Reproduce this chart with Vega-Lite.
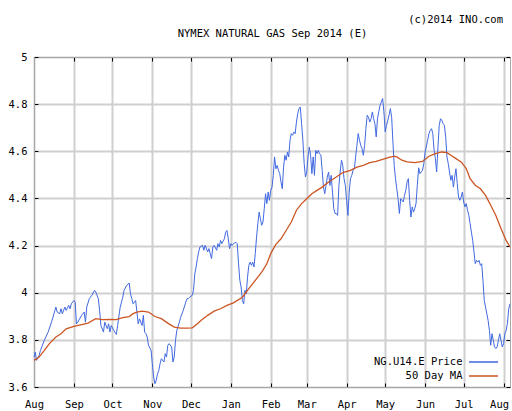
{
  "$schema": "https://vega.github.io/schema/vega-lite/v6.json",
  "width": 476,
  "height": 330,
  "autosize": {"type": "none"},
  "padding": {"left": 34, "top": 57, "right": 2, "bottom": 24},
  "background": "#ffffff",
  "title": {"text": "(c)2014 INO.com", "anchor": "end", "frame": "group", "dx": -7, "offset": 3, "font": "DejaVu Sans Mono", "fontSize": 10.5, "fontWeight": "normal", "color": "#000000"},
  "datasets": {
    "price": [
      {"date": "2013-08-01", "price": 3.727}, {"date": "2013-08-02", "price": 3.748}, {"date": "2013-08-03", "price": 3.713}, {"date": "2013-08-05", "price": 3.734}, {"date": "2013-08-06", "price": 3.755}, {"date": "2013-08-09", "price": 3.798}, {"date": "2013-08-12", "price": 3.833}, {"date": "2013-08-15", "price": 3.882}, {"date": "2013-08-18", "price": 3.939}, {"date": "2013-08-19", "price": 3.918}, {"date": "2013-08-21", "price": 3.911}, {"date": "2013-08-22", "price": 3.932}, {"date": "2013-08-23", "price": 3.911}, {"date": "2013-08-25", "price": 3.939}, {"date": "2013-08-26", "price": 3.925}, {"date": "2013-08-28", "price": 3.946}, {"date": "2013-08-29", "price": 3.932}, {"date": "2013-08-30", "price": 3.953},
      {"date": "2013-09-01", "price": 3.967}, {"date": "2013-09-02", "price": 3.96}, {"date": "2013-09-03", "price": 3.868}, {"date": "2013-09-04", "price": 3.875}, {"date": "2013-09-07", "price": 3.904}, {"date": "2013-09-09", "price": 3.918}, {"date": "2013-09-10", "price": 3.875}, {"date": "2013-09-11", "price": 3.939}, {"date": "2013-09-13", "price": 3.975}, {"date": "2013-09-15", "price": 3.989}, {"date": "2013-09-17", "price": 4.01}, {"date": "2013-09-18", "price": 4.003}, {"date": "2013-09-20", "price": 3.975}, {"date": "2013-09-21", "price": 3.925}, {"date": "2013-09-22", "price": 3.861}, {"date": "2013-09-24", "price": 3.833}, {"date": "2013-09-25", "price": 3.875}, {"date": "2013-09-27", "price": 3.847}, {"date": "2013-09-28", "price": 3.868}, {"date": "2013-09-29", "price": 3.833}, {"date": "2013-09-30", "price": 3.861},
      {"date": "2013-10-02", "price": 3.84}, {"date": "2013-10-04", "price": 3.823}, {"date": "2013-10-05", "price": 3.861}, {"date": "2013-10-07", "price": 3.939}, {"date": "2013-10-09", "price": 3.981}, {"date": "2013-10-10", "price": 4.01}, {"date": "2013-10-12", "price": 4.031}, {"date": "2013-10-14", "price": 4.041}, {"date": "2013-10-15", "price": 3.996}, {"date": "2013-10-16", "price": 3.975}, {"date": "2013-10-17", "price": 3.953}, {"date": "2013-10-19", "price": 3.967}, {"date": "2013-10-20", "price": 3.918}, {"date": "2013-10-21", "price": 3.868}, {"date": "2013-10-22", "price": 3.889}, {"date": "2013-10-24", "price": 3.861}, {"date": "2013-10-25", "price": 3.904}, {"date": "2013-10-26", "price": 3.833}, {"date": "2013-10-27", "price": 3.826}, {"date": "2013-10-28", "price": 3.812}, {"date": "2013-10-29", "price": 3.777}, {"date": "2013-10-31", "price": 3.755},
      {"date": "2013-11-01", "price": 3.699}, {"date": "2013-11-02", "price": 3.642}, {"date": "2013-11-03", "price": 3.614}, {"date": "2013-11-04", "price": 3.628}, {"date": "2013-11-05", "price": 3.656}, {"date": "2013-11-06", "price": 3.67}, {"date": "2013-11-07", "price": 3.699}, {"date": "2013-11-08", "price": 3.72}, {"date": "2013-11-10", "price": 3.706}, {"date": "2013-11-11", "price": 3.741}, {"date": "2013-11-12", "price": 3.727}, {"date": "2013-11-13", "price": 3.777}, {"date": "2013-11-14", "price": 3.784}, {"date": "2013-11-16", "price": 3.77}, {"date": "2013-11-17", "price": 3.706}, {"date": "2013-11-18", "price": 3.727}, {"date": "2013-11-19", "price": 3.798}, {"date": "2013-11-20", "price": 3.84}, {"date": "2013-11-22", "price": 3.875}, {"date": "2013-11-23", "price": 3.896}, {"date": "2013-11-25", "price": 3.925}, {"date": "2013-11-27", "price": 3.96}, {"date": "2013-11-28", "price": 3.975}, {"date": "2013-11-29", "price": 3.975}, {"date": "2013-11-30", "price": 3.981},
      {"date": "2013-12-02", "price": 3.989}, {"date": "2013-12-03", "price": 4.01}, {"date": "2013-12-04", "price": 4.08}, {"date": "2013-12-05", "price": 4.109}, {"date": "2013-12-06", "price": 4.145}, {"date": "2013-12-07", "price": 4.173}, {"date": "2013-12-08", "price": 4.194}, {"date": "2013-12-10", "price": 4.201}, {"date": "2013-12-11", "price": 4.18}, {"date": "2013-12-12", "price": 4.201}, {"date": "2013-12-14", "price": 4.173}, {"date": "2013-12-15", "price": 4.187}, {"date": "2013-12-16", "price": 4.166}, {"date": "2013-12-17", "price": 4.145}, {"date": "2013-12-18", "price": 4.194}, {"date": "2013-12-19", "price": 4.201}, {"date": "2013-12-21", "price": 4.18}, {"date": "2013-12-22", "price": 4.208}, {"date": "2013-12-23", "price": 4.194}, {"date": "2013-12-24", "price": 4.222}, {"date": "2013-12-25", "price": 4.208}, {"date": "2013-12-27", "price": 4.229}, {"date": "2013-12-28", "price": 4.257}, {"date": "2013-12-29", "price": 4.264}, {"date": "2013-12-30", "price": 4.229}, {"date": "2013-12-31", "price": 4.187},
      {"date": "2014-01-01", "price": 4.208}, {"date": "2014-01-02", "price": 4.201}, {"date": "2014-01-03", "price": 4.208}, {"date": "2014-01-05", "price": 4.214}, {"date": "2014-01-06", "price": 4.208}, {"date": "2014-01-07", "price": 4.123}, {"date": "2014-01-08", "price": 4.052}, {"date": "2014-01-09", "price": 4.024}, {"date": "2014-01-10", "price": 3.967}, {"date": "2014-01-11", "price": 3.953}, {"date": "2014-01-12", "price": 4.01}, {"date": "2014-01-13", "price": 3.996}, {"date": "2014-01-14", "price": 4.066}, {"date": "2014-01-15", "price": 4.116}, {"date": "2014-01-16", "price": 4.13}, {"date": "2014-01-17", "price": 4.116}, {"date": "2014-01-18", "price": 4.13}, {"date": "2014-01-19", "price": 4.109}, {"date": "2014-01-20", "price": 4.166}, {"date": "2014-01-21", "price": 4.236}, {"date": "2014-01-22", "price": 4.293}, {"date": "2014-01-23", "price": 4.342}, {"date": "2014-01-24", "price": 4.314}, {"date": "2014-01-25", "price": 4.286}, {"date": "2014-01-26", "price": 4.3}, {"date": "2014-01-27", "price": 4.357}, {"date": "2014-01-28", "price": 4.42}, {"date": "2014-01-29", "price": 4.378}, {"date": "2014-01-30", "price": 4.427}, {"date": "2014-01-31", "price": 4.392},
      {"date": "2014-02-01", "price": 4.434}, {"date": "2014-02-02", "price": 4.448}, {"date": "2014-02-03", "price": 4.498}, {"date": "2014-02-04", "price": 4.576}, {"date": "2014-02-05", "price": 4.526}, {"date": "2014-02-06", "price": 4.54}, {"date": "2014-02-07", "price": 4.519}, {"date": "2014-02-08", "price": 4.505}, {"date": "2014-02-09", "price": 4.47}, {"date": "2014-02-10", "price": 4.441}, {"date": "2014-02-11", "price": 4.533}, {"date": "2014-02-12", "price": 4.583}, {"date": "2014-02-13", "price": 4.562}, {"date": "2014-02-14", "price": 4.597}, {"date": "2014-02-15", "price": 4.576}, {"date": "2014-02-16", "price": 4.647}, {"date": "2014-02-17", "price": 4.675}, {"date": "2014-02-18", "price": 4.668}, {"date": "2014-02-19", "price": 4.682}, {"date": "2014-02-20", "price": 4.675}, {"date": "2014-02-21", "price": 4.724}, {"date": "2014-02-22", "price": 4.76}, {"date": "2014-02-23", "price": 4.781}, {"date": "2014-02-24", "price": 4.788}, {"date": "2014-02-25", "price": 4.717}, {"date": "2014-02-26", "price": 4.647}, {"date": "2014-02-27", "price": 4.548}, {"date": "2014-02-28", "price": 4.491},
      {"date": "2014-03-01", "price": 4.512}, {"date": "2014-03-02", "price": 4.576}, {"date": "2014-03-03", "price": 4.618}, {"date": "2014-03-04", "price": 4.583}, {"date": "2014-03-05", "price": 4.505}, {"date": "2014-03-06", "price": 4.576}, {"date": "2014-03-07", "price": 4.498}, {"date": "2014-03-08", "price": 4.604}, {"date": "2014-03-09", "price": 4.59}, {"date": "2014-03-10", "price": 4.604}, {"date": "2014-03-11", "price": 4.59}, {"date": "2014-03-12", "price": 4.583}, {"date": "2014-03-13", "price": 4.519}, {"date": "2014-03-14", "price": 4.448}, {"date": "2014-03-15", "price": 4.42}, {"date": "2014-03-16", "price": 4.455}, {"date": "2014-03-17", "price": 4.491}, {"date": "2014-03-18", "price": 4.512}, {"date": "2014-03-19", "price": 4.455}, {"date": "2014-03-20", "price": 4.498}, {"date": "2014-03-21", "price": 4.427}, {"date": "2014-03-22", "price": 4.357}, {"date": "2014-03-23", "price": 4.336}, {"date": "2014-03-24", "price": 4.336}, {"date": "2014-03-25", "price": 4.328}, {"date": "2014-03-26", "price": 4.455}, {"date": "2014-03-27", "price": 4.512}, {"date": "2014-03-28", "price": 4.562}, {"date": "2014-03-29", "price": 4.54}, {"date": "2014-03-30", "price": 4.484}, {"date": "2014-03-31", "price": 4.455},
      {"date": "2014-04-01", "price": 4.392}, {"date": "2014-04-02", "price": 4.328}, {"date": "2014-04-03", "price": 4.427}, {"date": "2014-04-04", "price": 4.484}, {"date": "2014-04-05", "price": 4.498}, {"date": "2014-04-06", "price": 4.519}, {"date": "2014-04-07", "price": 4.526}, {"date": "2014-04-08", "price": 4.576}, {"date": "2014-04-09", "price": 4.625}, {"date": "2014-04-10", "price": 4.675}, {"date": "2014-04-11", "price": 4.647}, {"date": "2014-04-12", "price": 4.625}, {"date": "2014-04-13", "price": 4.611}, {"date": "2014-04-14", "price": 4.583}, {"date": "2014-04-15", "price": 4.625}, {"date": "2014-04-16", "price": 4.696}, {"date": "2014-04-17", "price": 4.753}, {"date": "2014-04-18", "price": 4.745}, {"date": "2014-04-19", "price": 4.724}, {"date": "2014-04-20", "price": 4.738}, {"date": "2014-04-21", "price": 4.767}, {"date": "2014-04-22", "price": 4.738}, {"date": "2014-04-23", "price": 4.717}, {"date": "2014-04-24", "price": 4.661}, {"date": "2014-04-25", "price": 4.738}, {"date": "2014-04-26", "price": 4.767}, {"date": "2014-04-27", "price": 4.795}, {"date": "2014-04-28", "price": 4.809}, {"date": "2014-04-29", "price": 4.824}, {"date": "2014-04-30", "price": 4.767},
      {"date": "2014-05-01", "price": 4.682}, {"date": "2014-05-02", "price": 4.71}, {"date": "2014-05-03", "price": 4.731}, {"date": "2014-05-04", "price": 4.753}, {"date": "2014-05-05", "price": 4.781}, {"date": "2014-05-06", "price": 4.745}, {"date": "2014-05-07", "price": 4.639}, {"date": "2014-05-08", "price": 4.54}, {"date": "2014-05-09", "price": 4.484}, {"date": "2014-05-10", "price": 4.441}, {"date": "2014-05-11", "price": 4.399}, {"date": "2014-05-12", "price": 4.336}, {"date": "2014-05-13", "price": 4.399}, {"date": "2014-05-15", "price": 4.385}, {"date": "2014-05-16", "price": 4.413}, {"date": "2014-05-17", "price": 4.434}, {"date": "2014-05-18", "price": 4.47}, {"date": "2014-05-19", "price": 4.484}, {"date": "2014-05-20", "price": 4.392}, {"date": "2014-05-21", "price": 4.321}, {"date": "2014-05-22", "price": 4.364}, {"date": "2014-05-23", "price": 4.342}, {"date": "2014-05-24", "price": 4.357}, {"date": "2014-05-25", "price": 4.38}, {"date": "2014-05-26", "price": 4.46}, {"date": "2014-05-27", "price": 4.53}, {"date": "2014-05-28", "price": 4.505}, {"date": "2014-05-30", "price": 4.519}, {"date": "2014-05-31", "price": 4.548},
      {"date": "2014-06-01", "price": 4.597}, {"date": "2014-06-03", "price": 4.647}, {"date": "2014-06-04", "price": 4.675}, {"date": "2014-06-05", "price": 4.689}, {"date": "2014-06-06", "price": 4.696}, {"date": "2014-06-07", "price": 4.675}, {"date": "2014-06-08", "price": 4.604}, {"date": "2014-06-09", "price": 4.569}, {"date": "2014-06-10", "price": 4.512}, {"date": "2014-06-11", "price": 4.618}, {"date": "2014-06-12", "price": 4.71}, {"date": "2014-06-13", "price": 4.738}, {"date": "2014-06-14", "price": 4.731}, {"date": "2014-06-15", "price": 4.717}, {"date": "2014-06-16", "price": 4.71}, {"date": "2014-06-17", "price": 4.661}, {"date": "2014-06-18", "price": 4.576}, {"date": "2014-06-19", "price": 4.548}, {"date": "2014-06-20", "price": 4.512}, {"date": "2014-06-21", "price": 4.477}, {"date": "2014-06-22", "price": 4.498}, {"date": "2014-06-23", "price": 4.448}, {"date": "2014-06-24", "price": 4.491}, {"date": "2014-06-25", "price": 4.526}, {"date": "2014-06-26", "price": 4.463}, {"date": "2014-06-27", "price": 4.406}, {"date": "2014-06-28", "price": 4.392}, {"date": "2014-06-29", "price": 4.406}, {"date": "2014-06-30", "price": 4.427},
      {"date": "2014-07-01", "price": 4.385}, {"date": "2014-07-02", "price": 4.364}, {"date": "2014-07-03", "price": 4.378}, {"date": "2014-07-04", "price": 4.35}, {"date": "2014-07-05", "price": 4.328}, {"date": "2014-07-06", "price": 4.293}, {"date": "2014-07-07", "price": 4.257}, {"date": "2014-07-08", "price": 4.222}, {"date": "2014-07-09", "price": 4.173}, {"date": "2014-07-10", "price": 4.123}, {"date": "2014-07-11", "price": 4.137}, {"date": "2014-07-12", "price": 4.13}, {"date": "2014-07-13", "price": 4.137}, {"date": "2014-07-14", "price": 4.116}, {"date": "2014-07-15", "price": 4.123}, {"date": "2014-07-16", "price": 4.052}, {"date": "2014-07-17", "price": 3.967}, {"date": "2014-07-18", "price": 3.939}, {"date": "2014-07-19", "price": 3.911}, {"date": "2014-07-20", "price": 3.882}, {"date": "2014-07-21", "price": 3.84}, {"date": "2014-07-22", "price": 3.777}, {"date": "2014-07-23", "price": 3.826}, {"date": "2014-07-24", "price": 3.798}, {"date": "2014-07-25", "price": 3.77}, {"date": "2014-07-26", "price": 3.763}, {"date": "2014-07-27", "price": 3.77}, {"date": "2014-07-28", "price": 3.798}, {"date": "2014-07-29", "price": 3.826}, {"date": "2014-07-30", "price": 3.798}, {"date": "2014-07-31", "price": 3.77},
      {"date": "2014-08-01", "price": 3.784}, {"date": "2014-08-02", "price": 3.826}, {"date": "2014-08-03", "price": 3.84}, {"date": "2014-08-04", "price": 3.87}, {"date": "2014-08-05", "price": 3.93}, {"date": "2014-08-06", "price": 3.953}
    ],
    "ma": [
      {"date": "2013-08-01", "ma": 3.713}, {"date": "2013-08-05", "ma": 3.727}, {"date": "2013-08-09", "ma": 3.755}, {"date": "2013-08-13", "ma": 3.784}, {"date": "2013-08-18", "ma": 3.812}, {"date": "2013-08-22", "ma": 3.826}, {"date": "2013-08-26", "ma": 3.847}, {"date": "2013-09-01", "ma": 3.857}, {"date": "2013-09-07", "ma": 3.865}, {"date": "2013-09-12", "ma": 3.871}, {"date": "2013-09-18", "ma": 3.89}, {"date": "2013-09-23", "ma": 3.886}, {"date": "2013-09-29", "ma": 3.887}, {"date": "2013-10-04", "ma": 3.886}, {"date": "2013-10-09", "ma": 3.894}, {"date": "2013-10-14", "ma": 3.899}, {"date": "2013-10-17", "ma": 3.911}, {"date": "2013-10-20", "ma": 3.918}, {"date": "2013-10-24", "ma": 3.922}, {"date": "2013-10-29", "ma": 3.918}, {"date": "2013-11-03", "ma": 3.899}, {"date": "2013-11-08", "ma": 3.89}, {"date": "2013-11-13", "ma": 3.871}, {"date": "2013-11-18", "ma": 3.854}, {"date": "2013-11-23", "ma": 3.85}, {"date": "2013-11-28", "ma": 3.85}, {"date": "2013-12-02", "ma": 3.851}, {"date": "2013-12-06", "ma": 3.868}, {"date": "2013-12-09", "ma": 3.883}, {"date": "2013-12-14", "ma": 3.904}, {"date": "2013-12-19", "ma": 3.922}, {"date": "2013-12-24", "ma": 3.932}, {"date": "2013-12-29", "ma": 3.946}, {"date": "2014-01-03", "ma": 3.957}, {"date": "2014-01-10", "ma": 3.981}, {"date": "2014-01-15", "ma": 4.017}, {"date": "2014-01-20", "ma": 4.052}, {"date": "2014-01-25", "ma": 4.087}, {"date": "2014-01-29", "ma": 4.123}, {"date": "2014-02-01", "ma": 4.166}, {"date": "2014-02-05", "ma": 4.205}, {"date": "2014-02-09", "ma": 4.229}, {"date": "2014-02-13", "ma": 4.264}, {"date": "2014-02-17", "ma": 4.3}, {"date": "2014-02-21", "ma": 4.35}, {"date": "2014-02-25", "ma": 4.378}, {"date": "2014-03-01", "ma": 4.399}, {"date": "2014-03-05", "ma": 4.42}, {"date": "2014-03-09", "ma": 4.434}, {"date": "2014-03-13", "ma": 4.448}, {"date": "2014-03-18", "ma": 4.47}, {"date": "2014-03-24", "ma": 4.491}, {"date": "2014-03-29", "ma": 4.51}, {"date": "2014-04-04", "ma": 4.519}, {"date": "2014-04-09", "ma": 4.533}, {"date": "2014-04-14", "ma": 4.54}, {"date": "2014-04-19", "ma": 4.552}, {"date": "2014-04-24", "ma": 4.557}, {"date": "2014-04-29", "ma": 4.566}, {"date": "2014-05-04", "ma": 4.574}, {"date": "2014-05-08", "ma": 4.579}, {"date": "2014-05-10", "ma": 4.576}, {"date": "2014-05-14", "ma": 4.562}, {"date": "2014-05-18", "ma": 4.555}, {"date": "2014-05-24", "ma": 4.552}, {"date": "2014-05-30", "ma": 4.557}, {"date": "2014-06-04", "ma": 4.579}, {"date": "2014-06-09", "ma": 4.59}, {"date": "2014-06-14", "ma": 4.597}, {"date": "2014-06-18", "ma": 4.594}, {"date": "2014-06-21", "ma": 4.583}, {"date": "2014-06-25", "ma": 4.569}, {"date": "2014-06-29", "ma": 4.555}, {"date": "2014-07-03", "ma": 4.527}, {"date": "2014-07-06", "ma": 4.484}, {"date": "2014-07-10", "ma": 4.456}, {"date": "2014-07-14", "ma": 4.441}, {"date": "2014-07-18", "ma": 4.413}, {"date": "2014-07-22", "ma": 4.371}, {"date": "2014-07-26", "ma": 4.328}, {"date": "2014-07-30", "ma": 4.272}, {"date": "2014-08-03", "ma": 4.222}, {"date": "2014-08-06", "ma": 4.194}
    ]
  },
  "layer": [
    {
      "data": {"name": "price"},
      "mark": {"type": "line", "strokeWidth": 1, "interpolate": "linear"},
      "encoding": {
        "x": {"field": "date", "type": "temporal",
          "scale": {"domain": [{"year": 2013, "month": 8, "date": 1}, {"year": 2014, "month": 8, "date": 6}]},
          "axis": {"orient": "bottom", "title": null, "format": "%b", "tickCount": {"interval": "month", "step": 1}, "labelFlush": false, "labelOverlap": false, "grid": true, "labelPadding": 16,
            "labelAlign": {"condition": {"test": "datum.value > datetime(2014, 6, 15)", "value": "right"}, "value": "center"},
            "labelOffset": {"condition": {"test": "datum.value > datetime(2014, 6, 15)", "value": 5}, "value": 0}}},
        "y": {"field": "price", "type": "quantitative",
          "scale": {"domain": [3.6, 5], "zero": false, "nice": false},
          "axis": {"orient": "left", "title": null, "values": [3.6, 3.8, 4, 4.2, 4.4, 4.6, 4.8, 5], "format": "~g", "grid": true, "labelPadding": 11}},
        "color": {"datum": "NG.U14.E Price", "type": "nominal",
          "scale": {"domain": ["NG.U14.E Price", "50 Day MA"], "range": ["#4169e1", "#cc5522"]},
          "legend": {"title": null, "orient": "none", "legendX": 441.5, "legendY": 297}}
      }
    },
    {
      "data": {"name": "ma"},
      "mark": {"type": "line", "strokeWidth": 1.3, "interpolate": "linear"},
      "encoding": {
        "x": {"field": "date", "type": "temporal",
          "axis": {"orient": "top", "title": "NYMEX NATURAL GAS Sep 2014 (E)", "titlePadding": 18, "labels": false, "tickCount": {"interval": "month", "step": 1}, "grid": false}},
        "y": {"field": "ma", "type": "quantitative",
          "axis": {"orient": "right", "title": null, "labels": false, "values": [3.6, 3.8, 4, 4.2, 4.4, 4.6, 4.8, 5], "grid": false}},
        "color": {"datum": "50 Day MA", "type": "nominal"}
      }
    }
  ],
  "resolve": {"axis": {"x": "independent", "y": "independent"}},
  "config": {
    "view": {"stroke": null},
    "font": "DejaVu Sans Mono",
    "axis": {"labelFont": "DejaVu Sans Mono", "labelFontSize": 10.5, "labelColor": "#000000", "tickColor": "#000000", "tickSize": -4, "tickWidth": 1, "domainColor": "#a8a8a8", "domainWidth": 1, "gridColor": "#d0d0d0", "gridWidth": 2, "titleFont": "DejaVu Sans Mono", "titleFontSize": 10.5, "titleFontWeight": "normal", "titleColor": "#000000"},
    "legend": {"padding": 0, "labelFont": "DejaVu Sans Mono", "labelFontSize": 10.5, "labelColor": "#000000", "labelAlign": "right", "labelOffset": -29, "symbolType": "M-2,0H2", "symbolSize": 210, "symbolStrokeWidth": 1.5, "rowPadding": -0.5}
  }
}
